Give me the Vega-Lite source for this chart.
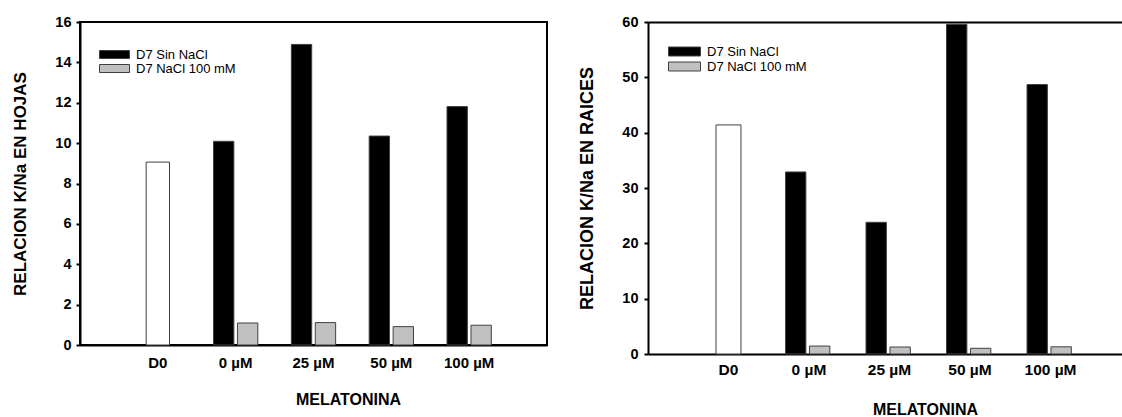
{
  "$schema": "https://vega.github.io/schema/vega-lite/v6.json",
  "background": "white",
  "padding": {"left": 10, "top": 13, "right": 0, "bottom": 0},
  "spacing": 30,
  "config": {
    "font": "Liberation Sans",
    "view": {"stroke": "black", "strokeWidth": 2},
    "axis": {
      "domainColor": "black", "domainWidth": 2, "tickColor": "black", "tickWidth": 2,
      "labelColor": "black", "titleColor": "black",
      "labelFont": "Liberation Sans", "titleFont": "Liberation Sans",
      "labelFontWeight": "bold", "titleFontWeight": "bold", "grid": false
    },
    "legend": {
      "symbolSize": 100, "symbolStrokeColor": "#404040", "symbolStrokeWidth": 1,
      "labelFontSize": 13, "labelFont": "Liberation Sans", "labelColor": "black", "padding": 0
    }
  },
  "datasets": {
    "hojas": [
      {"cat": "D0", "series": "D0", "value": 9.06},
      {"cat": "0 µM", "series": "D7 Sin NaCl", "value": 10.09},
      {"cat": "0 µM", "series": "D7 NaCl 100 mM", "value": 1.09},
      {"cat": "25 µM", "series": "D7 Sin NaCl", "value": 14.89},
      {"cat": "25 µM", "series": "D7 NaCl 100 mM", "value": 1.11},
      {"cat": "50 µM", "series": "D7 Sin NaCl", "value": 10.35},
      {"cat": "50 µM", "series": "D7 NaCl 100 mM", "value": 0.91},
      {"cat": "100 µM", "series": "D7 Sin NaCl", "value": 11.81},
      {"cat": "100 µM", "series": "D7 NaCl 100 mM", "value": 0.98}
    ],
    "raices": [
      {"cat": "D0", "series": "D0", "value": 41.4},
      {"cat": "0 µM", "series": "D7 Sin NaCl", "value": 32.9},
      {"cat": "0 µM", "series": "D7 NaCl 100 mM", "value": 1.44},
      {"cat": "25 µM", "series": "D7 Sin NaCl", "value": 23.8},
      {"cat": "25 µM", "series": "D7 NaCl 100 mM", "value": 1.26},
      {"cat": "50 µM", "series": "D7 Sin NaCl", "value": 59.6},
      {"cat": "50 µM", "series": "D7 NaCl 100 mM", "value": 1.03},
      {"cat": "100 µM", "series": "D7 Sin NaCl", "value": 48.7},
      {"cat": "100 µM", "series": "D7 NaCl 100 mM", "value": 1.3}
    ]
  },
  "resolve": {"scale": {"color": "independent"}, "legend": {"color": "independent"}},
  "hconcat": [
    {
      "width": 467,
      "height": 323,
      "data": {"name": "hojas"},
      "encoding": {
        "x": {
          "field": "cat", "type": "nominal",
          "scale": {"domain": ["D0", "0 µM", "25 µM", "50 µM", "100 µM"], "paddingInner": 0, "paddingOuter": 0.5},
          "axis": {
            "labelAngle": 0, "ticks": false, "labelPadding": 10, "labelFontSize": 15,
            "title": "MELATONINA", "titleFontSize": 16, "titleX": 268, "titleY": 46,
            "titleAlign": "center", "titleBaseline": "top"
          }
        },
        "y": {
          "field": "value", "type": "quantitative",
          "scale": {"domain": [0, 16], "nice": false},
          "axis": {
            "title": "RELACION K/Na EN HOJAS", "titleFontSize": 17, "titlePadding": 25,
            "values": [0, 2, 4, 6, 8, 10, 12, 14, 16], "tickSize": 4, "labelPadding": 5, "labelFontSize": 14.5
          }
        }
      },
      "layer": [
        {
          "transform": [{"filter": "datum.series == 'D0'"}],
          "mark": {"type": "bar", "fill": "white", "stroke": "#404040", "strokeWidth": 1, "width": {"band": 0.3}}
        },
        {
          "transform": [{"filter": "datum.series != 'D0'"}],
          "mark": {"type": "bar", "stroke": "#404040", "strokeWidth": 1},
          "encoding": {
            "xOffset": {
              "field": "series", "type": "nominal",
              "scale": {"domain": ["D7 Sin NaCl", "D7 NaCl 100 mM"], "paddingInner": 0.15, "paddingOuter": 0.7}
            },
            "color": {
              "field": "series", "type": "nominal",
              "scale": {"domain": ["D7 Sin NaCl", "D7 NaCl 100 mM"], "range": ["black", "#c0c0c0"]},
              "legend": {
                "title": null, "orient": "none", "legendX": 19, "legendY": 26,
                "symbolType": "M-3,-0.8H3V0.8H-3Z", "symbolOffset": 9, "labelOffset": 15, "rowPadding": -3.5
              }
            }
          }
        }
      ]
    },
    {
      "width": 474,
      "height": 332,
      "data": {"name": "raices"},
      "view": {"stroke": null},
      "resolve": {"axis": {"x": "independent"}},
      "encoding": {
        "y": {
          "field": "value", "type": "quantitative",
          "scale": {"domain": [0, 60], "nice": false},
          "axis": {
            "title": "RELACION K/Na EN RAICES", "titleFontSize": 18, "titlePadding": 25,
            "values": [0, 10, 20, 30, 40, 50, 60], "tickSize": 4, "labelPadding": 6, "labelFontSize": 14.5
          }
        }
      },
      "layer": [
        {
          "transform": [{"filter": "datum.series == 'D0'"}],
          "mark": {"type": "bar", "fill": "white", "stroke": "#404040", "strokeWidth": 1, "width": {"band": 0.31}},
          "encoding": {
            "x": {
              "field": "cat", "type": "nominal",
              "scale": {"domain": ["D0", "0 µM", "25 µM", "50 µM", "100 µM"], "paddingInner": 0, "paddingOuter": 0.444, "align": 0.563},
              "axis": {
                "labelAngle": 0, "ticks": false, "labelPadding": 8, "labelFontSize": 15.5,
                "title": "MELATONINA", "titleFontSize": 16, "titleX": 277, "titleY": 47,
                "titleAlign": "center", "titleBaseline": "top"
              }
            }
          }
        },
        {
          "transform": [{"filter": "datum.series != 'D0'"}],
          "mark": {"type": "bar", "stroke": "#404040", "strokeWidth": 1},
          "encoding": {
            "x": {
              "field": "cat", "type": "nominal",
              "scale": {"domain": ["D0", "0 µM", "25 µM", "50 µM", "100 µM"], "paddingInner": 0, "paddingOuter": 0.444, "align": 0.563},
              "axis": {"orient": "top", "labels": false, "ticks": false, "title": null}
            },
            "xOffset": {
              "field": "series", "type": "nominal",
              "scale": {"domain": ["D7 Sin NaCl", "D7 NaCl 100 mM"], "paddingInner": 0.15, "paddingOuter": 0.7}
            },
            "color": {
              "field": "series", "type": "nominal",
              "scale": {"domain": ["D7 Sin NaCl", "D7 NaCl 100 mM"], "range": ["black", "#c0c0c0"]},
              "legend": {
                "title": null, "orient": "none", "legendX": 20, "legendY": 23,
                "symbolType": "M-3.2,-0.9H3.2V0.9H-3.2Z", "symbolOffset": 10, "labelOffset": 16, "rowPadding": 1
              }
            }
          }
        }
      ]
    }
  ]
}
